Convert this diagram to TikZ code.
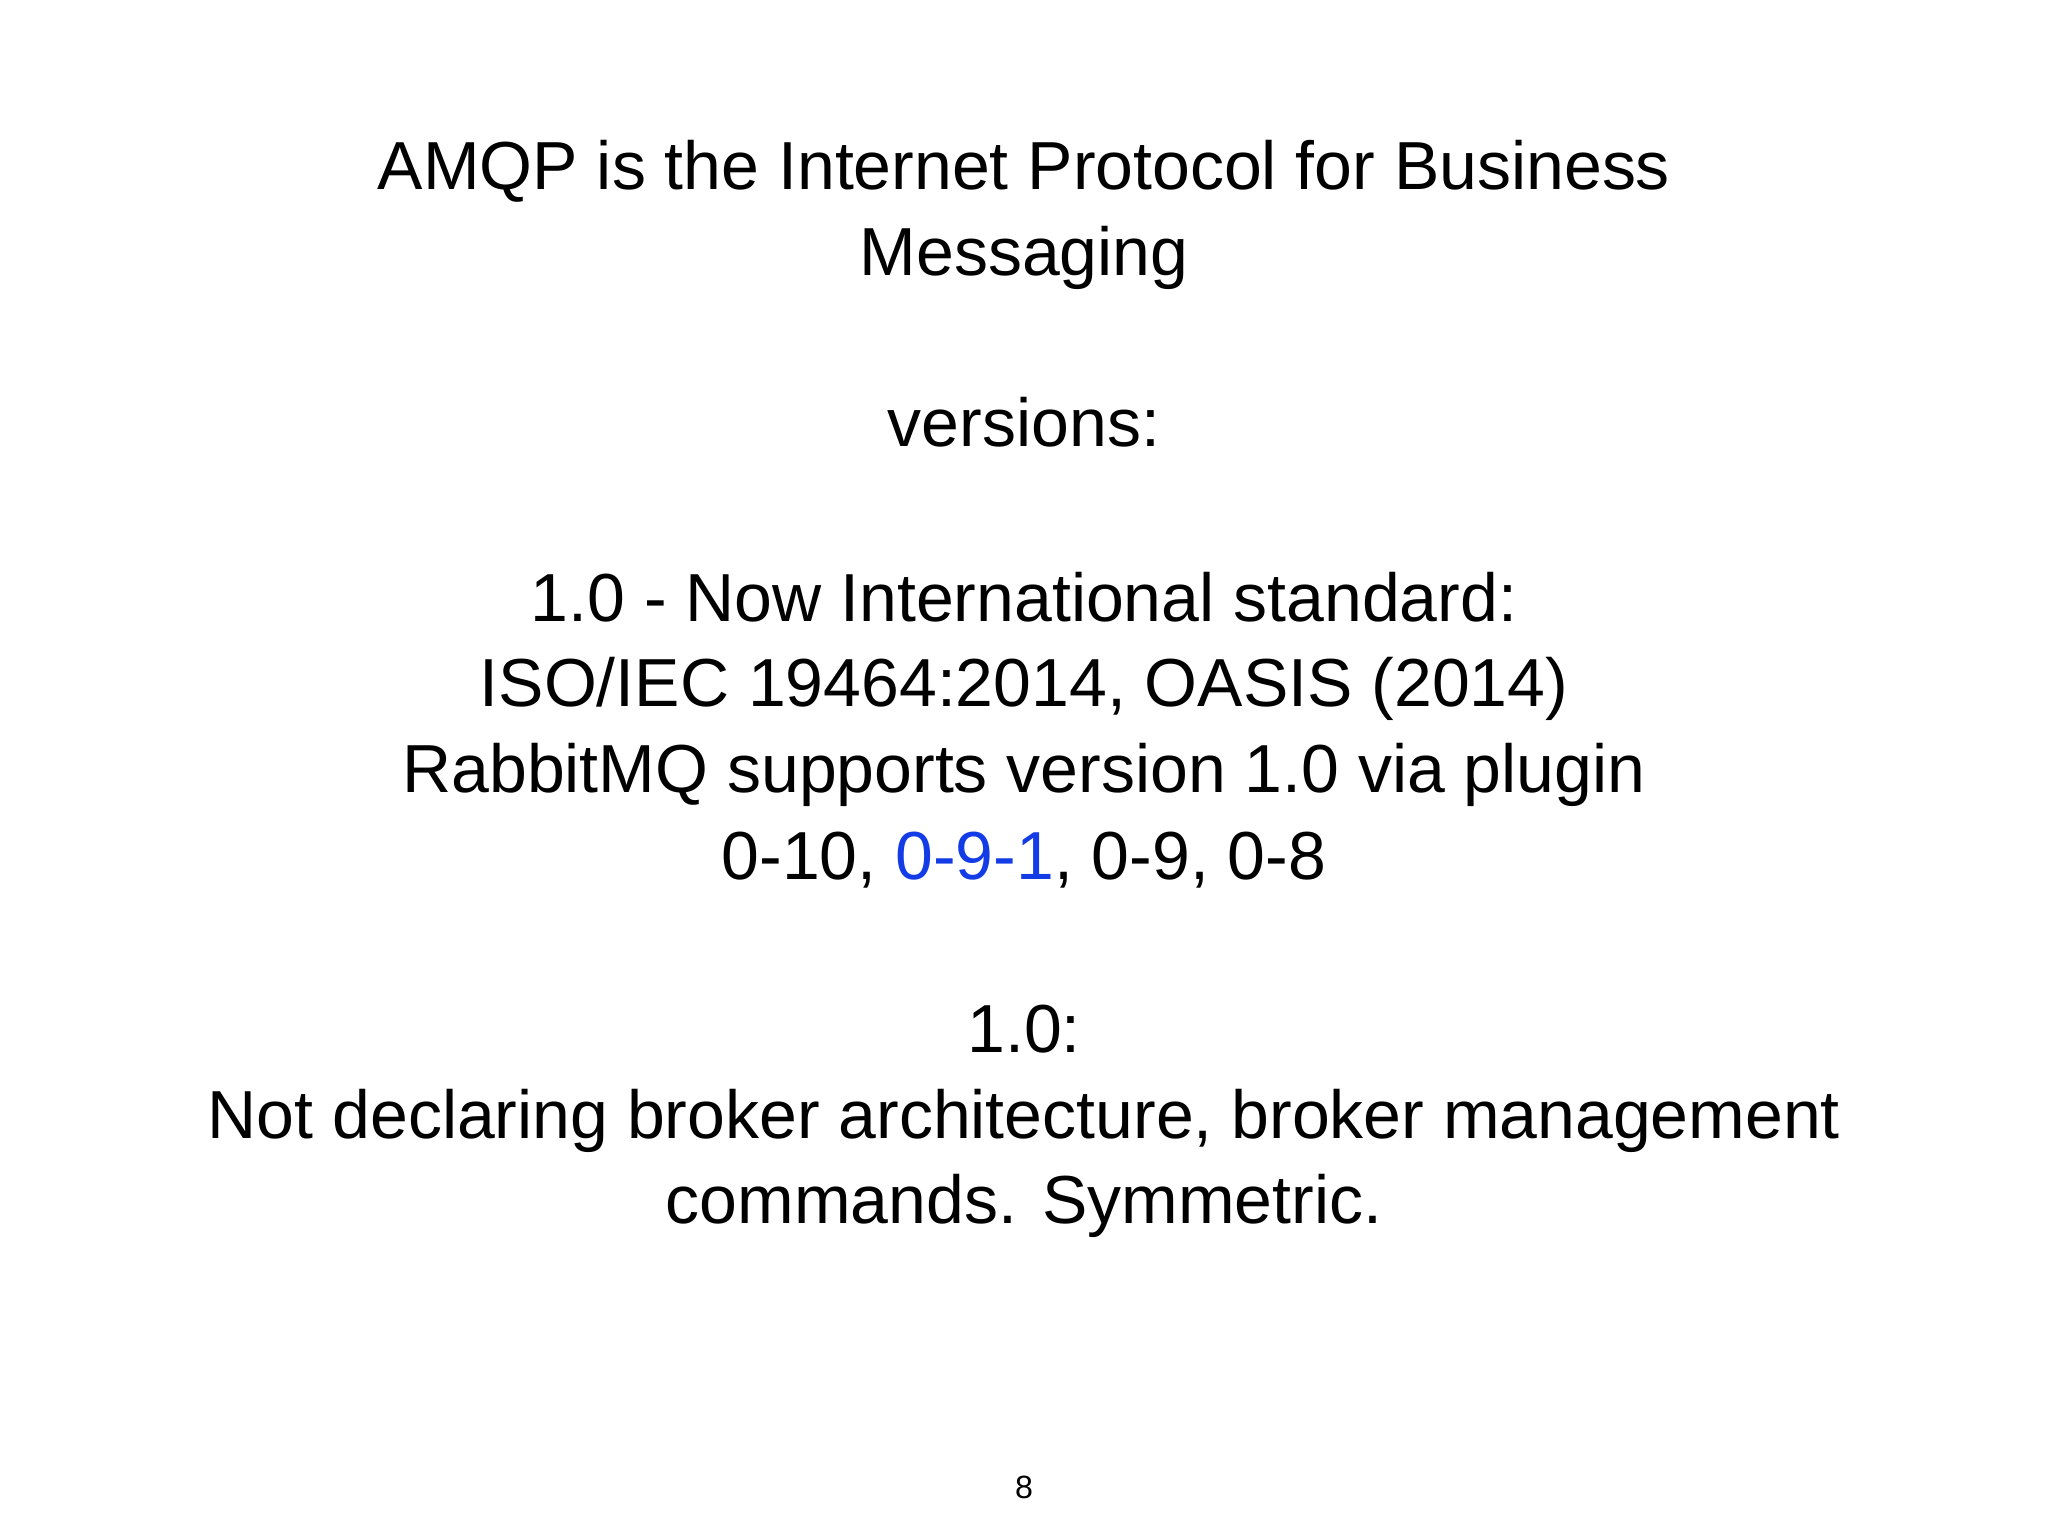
\documentclass[tikz,border=0pt]{standalone}
\usepackage{fontspec}
\setmainfont{Liberation Sans}
\begin{document}
\begin{tikzpicture}[x=0.01cm,y=-0.01cm,
  ln/.style={anchor=base,font=\fontsize{14.8pt}{18pt}\selectfont,inner sep=0pt}]
\useasboundingbox (0,0) rectangle (1568,1176);
\definecolor{lnk}{RGB}{20,60,230}
\node[ln] (t1) at (784,145) {AMQP is the Internet Protocol for Business};
\node[ln] (t2) at (784,211) {Messaging};
\node[ln] (t3) at (784,342) {versions:};
\node[ln] (t4) at (784,476) {1.0 - Now International standard:};
\node[ln] (t5) at (784,541) {ISO/IEC 19464:2014, OASIS (2014)};
\node[ln] (t6) at (784,607) {RabbitMQ supports version 1.0 via plugin};
\node[ln] (t7) at (784,673) {0-10, \textcolor{lnk}{0-9-1}, 0-9, 0-8};
\node[ln] (t8) at (784,806) {1.0:};
\node[ln] (t9) at (784,872) {Not declaring broker architecture, broker management};
\node[ln] (t10) at (784,937) {commands. Symmetric.};
\node[anchor=base,inner sep=0pt,font=\fontsize{7pt}{8pt}\selectfont] (pg) at (784,1147) {8};
\end{tikzpicture}
\end{document}
